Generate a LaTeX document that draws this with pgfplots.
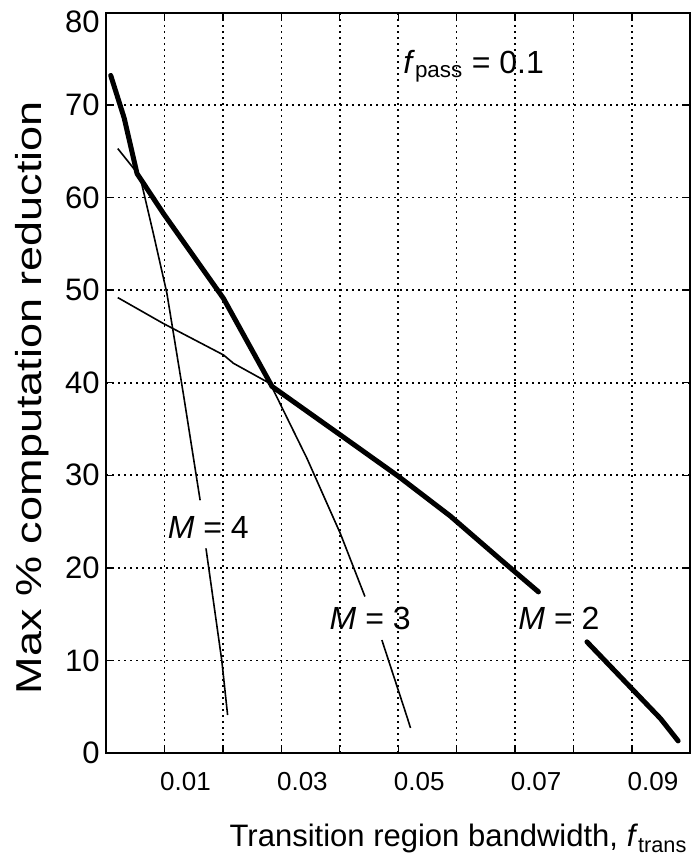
\documentclass[border=0pt]{standalone}
\usepackage{fontspec}
\setmainfont{Liberation Sans}
\usepackage{pgfplots}
\pgfplotsset{compat=1.18}

\newcommand{\lbl}{\fontsize{32}{38}\selectfont}

\begin{document}
\begin{tikzpicture}
\begin{axis}[
    at={(0,0)}, anchor=south west,
    scale only axis,
    width=584pt, height=740pt,
    xmin=0, xmax=0.1, ymin=0, ymax=80,
    xtick={0.01,0.02,0.03,0.04,0.05,0.06,0.07,0.08,0.09},
    xticklabels={0.01,,0.03,,0.05,,0.07,,0.09},
    ytick={0,10,20,30,40,50,60,70},
    extra y ticks={80},
    extra y tick style={yticklabel style={yshift=-9pt}},
    grid=major,
    major grid style={black, line width=1.6pt, dash pattern=on 1.6pt off 4.4pt},
    tick align=inside,
    major tick length=7pt,
    tick style={black, line width=1.4pt},
    axis line style={black, line width=2pt},
    xticklabel style={font=\fontsize{26}{31}\selectfont, xshift=21pt, yshift=-16pt},
    yticklabel style={font=\fontsize{31}{37}\selectfont, xshift=-3pt},
    /pgf/number format/assume math mode=true,
    xlabel={Transition region bandwidth, \textit{f}\textsubscript{trans}},
    xlabel style={font=\fontsize{31}{37}\selectfont, at={(axis description cs:1,0)}, anchor=base east, yshift=-94pt},
    ylabel={Max \% computation reduction},
    ylabel style={font=\fontsize{36}{43}\selectfont, at={(axis description cs:-0.127,0.48)}, anchor=center, xscale=1.25},
]
% M = 2 (thick)
\addplot[black, line width=5pt, line join=round, line cap=round] coordinates {
    (0.0008,73.2) (0.0031,68.6) (0.0053,62.6) (0.0098,58.3) (0.0201,49.1)
    (0.0284,39.6) (0.0400,34.4) (0.0500,29.9) (0.0589,25.6) (0.0675,20.9)
    (0.0740,17.4)
};
\addplot[black, line width=5pt, line cap=round] coordinates {
    (0.0823,12.0) (0.0949,3.7) (0.0979,1.3)
};
% M = 4
\addplot[black, line width=1.6pt] coordinates {
    (0.0020,65.3) (0.0058,62.3) (0.0081,56.1) (0.0104,49.7) (0.0132,38.9)
    (0.0161,27.3)
};
\addplot[black, line width=1.6pt] coordinates {
    (0.0171,22.1) (0.0198,10.0) (0.0208,4.1)
};
% M = 3
\addplot[black, line width=1.6pt] coordinates {
    (0.0020,49.2) (0.0098,46.4) (0.0201,43.0) (0.0218,42.1) (0.0281,39.9)
    (0.0344,31.8) (0.0401,23.7) (0.0443,16.9)
};
\addplot[black, line width=1.6pt] coordinates {
    (0.0472,12.2) (0.0515,3.9) (0.0521,2.7)
};
\node[font=\lbl] at (axis cs:0.0175,24.4) {\textit{M} = 4};
\node[font=\lbl] at (axis cs:0.0452,14.5) {\textit{M} = 3};
\node[font=\lbl] at (axis cs:0.0775,14.5) {\textit{M} = 2};
\node[font=\lbl] at (axis cs:0.0629,74.2) {\textit{f}\textsubscript{pass} = 0.1};
\end{axis}
\pgfresetboundingbox
\useasboundingbox (-106pt,-108pt) rectangle (589pt,752.5pt);
\end{tikzpicture}
\end{document}
